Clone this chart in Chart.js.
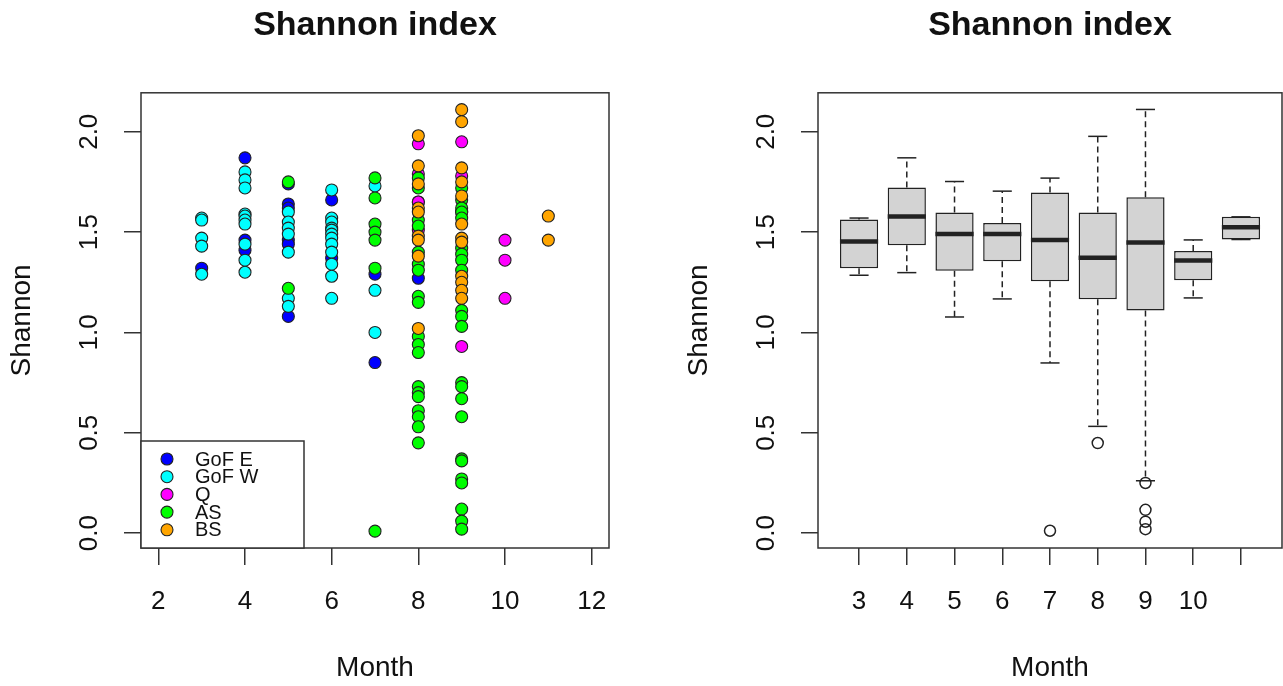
<!DOCTYPE html>
<html>
<head>
<meta charset="utf-8">
<script src="https://cdn.jsdelivr.net/npm/chart.js@4.4.1/dist/chart.umd.min.js"></script>
<style>
  html, body { margin: 0; padding: 0; background: #fff; }
  #wrap { position: relative; width: 1283px; height: 686px; overflow: hidden; }
  #scatterChart { position: absolute; left: 0; top: 0; }
  #boxChart { position: absolute; left: 677px; top: 0; }
</style>
</head>
<body>
<div id="wrap">
  <canvas id="scatterChart" width="641" height="686" style="width:641px;height:686px"></canvas>
  <canvas id="boxChart" width="612" height="686" style="width:612px;height:686px"></canvas>
</div>
<script>
// ---- data ----
const groups = ["GoF E", "GoF W", "Q", "AS", "BS"];

const gofEMonth   = [3, 4, 4, 4, 5, 5, 5, 5, 5, 5, 6, 6, 7, 7, 8, 8];
const gofEShannon = [1.32, 1.87, 1.46, 1.41, 1.74, 1.64, 1.62, 1.46, 1.44, 1.08, 1.66, 1.37, 1.29, 0.85, 1.27, 1.65];

const gofWMonth   = [3, 3, 3, 3, 3, 4, 4, 4, 4, 4, 4, 4, 4, 4, 4, 5, 5, 5, 5, 5, 5, 5,
                     6, 6, 6, 6, 6, 6, 6, 6, 6, 6, 6, 6, 7, 7, 7];
const gofWShannon = [1.57, 1.56, 1.47, 1.43, 1.29, 1.80, 1.76, 1.72, 1.59, 1.58, 1.56, 1.54, 1.44, 1.36, 1.30,
                     1.60, 1.55, 1.52, 1.49, 1.40, 1.17, 1.13,
                     1.71, 1.57, 1.55, 1.52, 1.51, 1.49, 1.47, 1.44, 1.40, 1.34, 1.28, 1.17, 1.73, 1.21, 1.00];

const qMonth   = [8, 8, 8, 8, 9, 9, 9, 9, 10, 10, 10];
const qShannon = [1.94, 1.79, 1.65, 1.51, 1.95, 1.78, 1.60, 0.93, 1.46, 1.36, 1.17];

const asMonth   = [5, 5, 7, 7, 7, 7, 7, 7, 7,
                   8, 8, 8, 8, 8, 8, 8, 8, 8, 8, 8, 8, 8, 8, 8, 8, 8, 8, 8,
                   9, 9, 9, 9, 9, 9, 9, 9, 9, 9, 9, 9, 9, 9, 9, 9, 9, 9, 9, 9, 9, 9, 9];
const asShannon = [1.75, 1.22, 1.77, 1.67, 1.54, 1.50, 1.46, 1.32, 0.01,
                   1.77, 1.72, 1.56, 1.53, 1.40, 1.34, 1.31, 1.18, 1.15, 0.98, 0.94, 0.90, 0.73, 0.70, 0.68, 0.61, 0.58, 0.53, 0.45,
                   1.72, 1.66, 1.62, 1.60, 1.57, 1.42, 1.39, 1.36, 1.31, 1.11, 1.08, 1.03, 0.75, 0.73, 0.67, 0.58, 0.37, 0.36, 0.27, 0.25, 0.12, 0.06, 0.02];

const bsMonth   = [8, 8, 8, 8, 8, 8, 8, 8, 8, 9, 9, 9, 9, 9, 9, 9, 9, 9, 9, 9, 9, 11, 11];
const bsShannon = [1.98, 1.83, 1.74, 1.62, 1.60, 1.48, 1.46, 1.38, 1.02,
                   2.11, 2.05, 1.82, 1.75, 1.68, 1.54, 1.47, 1.45, 1.28, 1.25, 1.21, 1.17, 1.58, 1.46];

// boxplot statistics per month (right panel)
const boxMonths   = [3, 4, 5, 6, 7, 8, 9, 10, 11];
const boxLabels   = ["3", "4", "5", "6", "7", "8", "9", "10", ""];
const whiskerLow  = [1.285, 1.298, 1.077, 1.167, 0.848, 0.532, 0.261, 1.172, 1.463];
const quart1      = [1.320, 1.435, 1.308, 1.355, 1.255, 1.165, 1.109, 1.260, 1.463];
const medians     = [1.453, 1.578, 1.490, 1.490, 1.461, 1.372, 1.448, 1.358, 1.524];
const quart3      = [1.563, 1.722, 1.598, 1.545, 1.697, 1.598, 1.674, 1.406, 1.576];
const whiskerHigh = [1.570, 1.870, 1.752, 1.704, 1.769, 1.977, 2.111, 1.461, 1.576];
const outlierMonth = [7, 8, 9, 9, 9, 9];
const outlierValue = [0.012, 0.449, 0.25, 0.116, 0.057, 0.02];

// axes
const yTickValues = [0, 0.5, 1, 1.5, 2];
const yTickLabels = ["0.0", "0.5", "1.0", "1.5", "2.0"];
const monthTicks  = [2, 4, 6, 8, 10, 12];

// ---- style ----
const fontFamily = '"Liberation Sans", Arial, Helvetica, sans-serif';
const textColor = '#111';
const axisColor = '#333';
const lineW = 1.5;
const groupColors = ['#0000FF', '#00FFFF', '#FF00FF', '#00FF00', '#FFA500'];
const drawOrder = [4, 3, 2, 1, 0]; // orange on top, blue at the back
const groupMonths = [gofEMonth, gofWMonth, qMonth, asMonth, bsMonth];
const groupValues = [gofEShannon, gofWShannon, qShannon, asShannon, bsShannon];

// frame + rotated y tick labels, like base R
const rFrame = {
  id: 'rFrame',
  afterDraw(chart) {
    const { ctx, chartArea: a, scales: { y } } = chart;
    ctx.save();
    ctx.strokeStyle = axisColor;
    ctx.lineWidth = lineW;
    ctx.strokeRect(a.left, a.top, a.right - a.left, a.bottom - a.top);
    ctx.fillStyle = textColor;
    ctx.font = '26px ' + fontFamily;
    ctx.textAlign = 'center';
    ctx.textBaseline = 'middle';
    yTickValues.forEach((v, i) => {
      ctx.save();
      ctx.translate(a.left - 51, y.getPixelForValue(v));
      ctx.rotate(-Math.PI / 2);
      ctx.fillText(yTickLabels[i], 0, 0);
      ctx.restore();
    });
    ctx.restore();
  }
};

// legend box in the bottom-left corner of the scatter plot
const cornerLegend = {
  id: 'cornerLegend',
  afterDraw(chart) {
    const { ctx, chartArea: a } = chart;
    const w = 163, h = 107, step = 17.7;
    const top = a.bottom - h;
    ctx.save();
    ctx.fillStyle = '#fff';
    ctx.fillRect(a.left, top, w, h);
    ctx.strokeStyle = axisColor;
    ctx.lineWidth = lineW;
    ctx.strokeRect(a.left, top, w, h);
    ctx.font = '20px ' + fontFamily;
    ctx.textBaseline = 'middle';
    ctx.textAlign = 'left';
    chart.data.datasets.forEach((ds, i) => {
      const cy = top + 18 + i * step;
      ctx.beginPath();
      ctx.arc(a.left + 26, cy, 6, 0, Math.PI * 2);
      ctx.fillStyle = ds.backgroundColor;
      ctx.fill();
      ctx.lineWidth = 1.1;
      ctx.strokeStyle = '#222';
      ctx.stroke();
      ctx.fillStyle = textColor;
      ctx.fillText(ds.label, a.left + 54, cy + 1);
    });
    ctx.restore();
  }
};

// whiskers, caps and medians for the boxplot
const boxWhiskers = {
  id: 'boxWhiskers',
  afterDatasetsDraw(chart) {
    const { ctx, scales: { x, y } } = chart;
    const unit = x.getPixelForValue(1) - x.getPixelForValue(0);
    const seg = (x1, y1, x2, y2) => { ctx.beginPath(); ctx.moveTo(x1, y1); ctx.lineTo(x2, y2); ctx.stroke(); };
    ctx.save();
    ctx.strokeStyle = '#222';
    boxMonths.forEach((m, i) => {
      const cx = x.getPixelForValue(i + 1);
      const yHi = y.getPixelForValue(whiskerHigh[i]);
      const yLo = y.getPixelForValue(whiskerLow[i]);
      ctx.lineWidth = lineW;
      ctx.setLineDash([6, 4]);
      seg(cx, y.getPixelForValue(quart3[i]), cx, yHi);
      seg(cx, y.getPixelForValue(quart1[i]), cx, yLo);
      ctx.setLineDash([]);
      seg(cx - 0.2 * unit, yHi, cx + 0.2 * unit, yHi);
      seg(cx - 0.2 * unit, yLo, cx + 0.2 * unit, yLo);
      ctx.lineWidth = 4.5;
      const ym = y.getPixelForValue(medians[i]);
      seg(cx - 0.4 * unit, ym, cx + 0.4 * unit, ym);
    });
    ctx.restore();
  }
};

function baseOptions(xMin, xMax, xTicks, xLabel, padRight) {
  const tickFont = { family: fontFamily, size: 26 };
  const labFont = { family: fontFamily, size: 28 };
  const grid = { drawOnChartArea: false, drawTicks: true, tickLength: 17, color: axisColor, lineWidth: lineW, offset: false };
  return {
    responsive: false,
    animation: false,
    events: [],
    layout: { padding: { left: 0, right: padRight, top: 0, bottom: 0 } },
    plugins: {
      legend: { display: false },
      tooltip: { enabled: false },
      title: {
        display: true, text: 'Shannon index', fullSize: false, color: textColor,
        font: { family: fontFamily, size: 34, weight: 'bold' },
        padding: { top: 5, bottom: 47 }
      }
    },
    scales: {
      x: {
        type: 'linear', min: xMin, max: xMax, offset: false,
        afterBuildTicks: s => { s.ticks = xTicks.map(v => ({ value: v })); },
        afterFit: s => { s.height = 138; },
        ticks: { callback: xLabel, font: tickFont, color: textColor, padding: 21, maxRotation: 0, autoSkip: false },
        grid: grid,
        border: { display: false },
        title: { display: true, text: 'Month', color: textColor, font: labFont, padding: { top: 0, bottom: 1 } }
      },
      y: {
        type: 'linear', min: -0.074, max: 2.194,
        afterBuildTicks: s => { s.ticks = yTickValues.map(v => ({ value: v })); },
        afterFit: s => { s.width = 141; },
        ticks: { display: false },
        grid: grid,
        border: { display: false },
        title: { display: true, text: 'Shannon', color: textColor, font: labFont, padding: { top: 5, bottom: 0 } }
      }
    }
  };
}

// left: scatter of Shannon index by month, coloured by area
new Chart(document.getElementById('scatterChart'), {
  type: 'scatter',
  data: {
    datasets: groups.map((g, k) => ({
      label: g,
      data: groupMonths[k].map((m, j) => ({ x: m, y: groupValues[k][j] })),
      backgroundColor: groupColors[k],
      borderColor: '#222',
      borderWidth: 1.1,
      pointRadius: 6,
      order: drawOrder[k]
    }))
  },
  options: baseOptions(1.6, 12.4, monthTicks, v => String(v), 32),
  plugins: [rFrame, cornerLegend]
});

// right: boxplot by month
new Chart(document.getElementById('boxChart'), {
  type: 'bar',
  data: {
    datasets: [{
      label: 'IQR',
      data: boxMonths.map((m, i) => ({ x: i + 1, y: [quart1[i], quart3[i]] })),
      backgroundColor: '#D3D3D3',
      borderColor: '#222',
      borderWidth: lineW,
      borderSkipped: false,
      categoryPercentage: 0.8,
      barPercentage: 1.0
    }, {
      type: 'scatter',
      label: 'outliers',
      data: outlierMonth.map((m, i) => ({ x: boxMonths.indexOf(m) + 1, y: outlierValue[i] })),
      backgroundColor: 'rgba(0,0,0,0)',
      borderColor: '#222',
      borderWidth: lineW,
      pointRadius: 5.5
    }]
  },
  options: baseOptions(0.14, 9.86, boxMonths.map((m, i) => i + 1), (v, i) => boxLabels[i], 1),
  plugins: [rFrame, boxWhiskers]
});
</script>
</body>
</html>
